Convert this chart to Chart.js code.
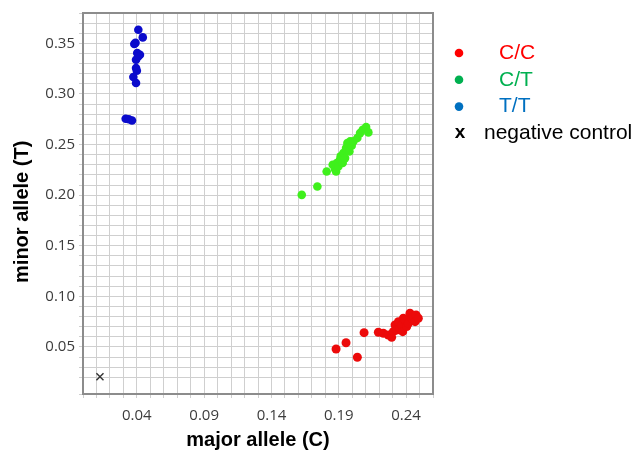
<!DOCTYPE html>
<html>
<head>
<meta charset="utf-8">
<script src="https://cdn.jsdelivr.net/npm/chart.js@4"></script>
<style>
  html, body { margin: 0; padding: 0; background: #fff; }
</style>
</head>
<body>
<canvas id="alleleChart" width="642" height="454"></canvas>
<script>
// genotype clusters: major allele (C) signal vs minor allele (T) signal
const ccMajor = [0.1880, 0.1954, 0.2038, 0.2088, 0.2194, 0.2231, 0.2268, 0.2293, 0.2305, 0.2318, 0.2330, 0.2343,
  0.2355, 0.2368, 0.2375, 0.2380, 0.2392, 0.2405, 0.2417, 0.2429, 0.2442, 0.2454, 0.2467, 0.2474, 0.2491];
const ccMinor = [0.0480, 0.0542, 0.0398, 0.0641, 0.0645, 0.0635, 0.0618, 0.0595, 0.0651, 0.0717, 0.0668, 0.0750,
  0.0684, 0.0717, 0.0651, 0.0783, 0.0767, 0.0701, 0.0734, 0.0833, 0.0783, 0.0800, 0.0750, 0.0816, 0.0783];

const ctMajor = [0.1625, 0.1741, 0.1810, 0.1855, 0.1872, 0.1880, 0.1885, 0.1897, 0.1909, 0.1914, 0.1929, 0.1934,
  0.1947, 0.1954, 0.1964, 0.1979, 0.1984, 0.1996, 0.2008, 0.2038, 0.2058, 0.2078, 0.2103, 0.2120];
const ctMinor = [0.2003, 0.2085, 0.2234, 0.2300, 0.2258, 0.2234, 0.2317, 0.2283, 0.2350, 0.2383, 0.2317, 0.2416,
  0.2366, 0.2465, 0.2515, 0.2432, 0.2531, 0.2488, 0.2531, 0.2564, 0.2613, 0.2646, 0.2673, 0.2620];

const ttMajor = [0.0411, 0.0444, 0.0381, 0.0390, 0.0403, 0.0423, 0.0394, 0.0410, 0.0394, 0.0400, 0.0374, 0.0394,
  0.0317, 0.0364, 0.0340];
const ttMinor = [0.3635, 0.3559, 0.3493, 0.3505, 0.3404, 0.3387, 0.3338, 0.3370, 0.3256, 0.3229, 0.3167, 0.3108,
  0.2755, 0.2738, 0.2750];

const ntcMajor = [0.0126];
const ntcMinor = [0.0206];

const xTickLabels = [0.04, 0.09, 0.14, 0.19, 0.24];
const yTickLabels = [0.05, 0.10, 0.15, 0.20, 0.25, 0.30, 0.35];

const keyLabels = ['C/C', 'C/T', 'T/T'];
const keyColors = ['#ff0000', '#00b050', '#0070c0'];

const pts = (xs, ys) => xs.map((x, i) => ({ x: x, y: ys[i] }));
const showTick = (list) => (v) => list.some(t => Math.abs(t - v) < 1e-6) ? v.toFixed(2) : '';

// grey frame on top/right and the legend at the right
const frameAndKey = {
  id: 'frameAndKey',
  beforeDatasetsDraw(chart) {
    const { ctx, chartArea: a } = chart;
    ctx.save();
    ctx.strokeStyle = '#8c8c8c';
    ctx.lineWidth = 2;
    ctx.beginPath();
    ctx.moveTo(a.left, a.top);
    ctx.lineTo(a.right, a.top);
    ctx.lineTo(a.right, a.bottom);
    ctx.stroke();
    ctx.restore();
  },
  afterDraw(chart) {
    const ctx = chart.ctx;
    ctx.save();
    ctx.font = '21px "Liberation Sans", Arial, sans-serif';
    ctx.textBaseline = 'middle';
    keyLabels.forEach((lab, i) => {
      const y = 53 + i * 26.8;
      ctx.fillStyle = keyColors[i];
      ctx.beginPath();
      ctx.arc(459, y, 4.3, 0, Math.PI * 2);
      ctx.fill();
      ctx.fillText(lab, 499, y);
    });
    ctx.fillStyle = '#000';
    ctx.font = 'bold 19px "Liberation Sans", Arial, sans-serif';
    ctx.textAlign = 'center';
    ctx.fillText('x', 460, 133);
    ctx.font = '21px "Liberation Sans", Arial, sans-serif';
    ctx.textAlign = 'left';
    ctx.fillText('negative control', 484, 133);
    ctx.restore();
  }
};

new Chart(document.getElementById('alleleChart'), {
  type: 'scatter',
  data: {
    datasets: [
      { label: 'C/C', data: pts(ccMajor, ccMinor), backgroundColor: '#ec0a0a', borderWidth: 0, pointRadius: 4.5 },
      { label: 'C/T', data: pts(ctMajor, ctMinor), backgroundColor: '#3ff01c', borderWidth: 0, pointRadius: 4.3 },
      { label: 'T/T', data: pts(ttMajor, ttMinor), backgroundColor: '#0b0bcc', borderWidth: 0, pointRadius: 4.3 },
      { label: 'negative control', data: pts(ntcMajor, ntcMinor), pointStyle: 'crossRot',
        borderColor: '#333', borderWidth: 1.4, pointRadius: 5 }
    ]
  },
  options: {
    responsive: false,
    animation: false,
    layout: { padding: { left: 0, top: 13, right: 209, bottom: 0 } },
    plugins: {
      legend: { display: false },
      tooltip: { enabled: false }
    },
    scales: {
      x: {
        type: 'linear',
        min: 0,
        max: 0.26,
        afterFit: (s) => { s.height = 60; },
        border: { color: '#8c8c8c', width: 2 },
        grid: { color: '#cfcfcf', lineWidth: 1, tickLength: 4 },
        ticks: {
          stepSize: 0.01,
          autoSkip: false,
          maxRotation: 0,
          padding: 9,
          color: '#3c3c3c',
          font: { family: '"Open Sans", sans-serif', size: 15 },
          callback: showTick(xTickLabels)
        },
        title: {
          display: true,
          text: 'major allele (C)',
          color: '#000',
          padding: { top: 0, bottom: 2 },
          font: { family: '"Liberation Sans", Arial, sans-serif', size: 20, weight: 'bold' }
        }
      },
      y: {
        type: 'linear',
        min: 0.0035,
        max: 0.38,
        afterFit: (s) => { s.width = 83; },
        border: { color: '#8c8c8c', width: 2 },
        grid: { color: '#cfcfcf', lineWidth: 1, tickLength: 4 },
        ticks: {
          stepSize: 0.01,
          autoSkip: false,
          padding: 4,
          color: '#3c3c3c',
          font: { family: '"Open Sans", sans-serif', size: 15 },
          callback: showTick(yTickLabels)
        },
        title: {
          display: true,
          text: 'minor allele (T)   ',
          color: '#000',
          padding: { top: 10, bottom: 0 },
          font: { family: '"Liberation Sans", Arial, sans-serif', size: 20, weight: 'bold' }
        }
      }
    }
  },
  plugins: [frameAndKey]
});
</script>
</body>
</html>
